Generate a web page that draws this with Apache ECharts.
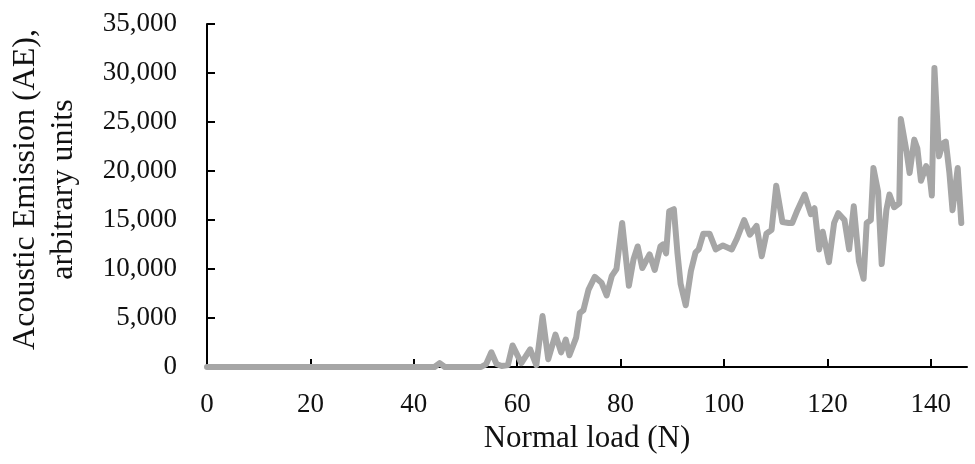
<!DOCTYPE html>
<html>
<head>
<meta charset="utf-8">
<script src="https://cdn.jsdelivr.net/npm/echarts@6/dist/echarts.min.js"></script>
<style>
html,body{margin:0;padding:0;background:#fff;}
#chart{width:975px;height:464px;}
</style>
</head>
<body>
<div id="chart"></div>
<script>
// Normal load (N)
var loadN = [0, 44, 45, 46, 53, 54, 55, 56, 57, 58.2, 59.1, 60.8, 62.5, 63.7, 64.9, 66.0, 67.4, 68.5, 69.4, 70.1,
  71.4, 72.1, 72.8, 73.8, 75.0, 76.3, 77.3, 78.3, 79.2, 80.3, 81.6, 82.5, 83.3, 84.2, 85.6, 86.6, 87.7, 88.2, 88.8,
  89.4, 90.3, 91.0, 91.6, 92.6, 93.6, 94.5, 95.1, 96.0, 97.2, 98.4, 99.8, 101.5, 102.5, 103.9, 105.0, 106.3, 107.3,
  108.2, 109.2, 110.1, 111.3, 112.5, 113.2, 114.2, 115.6, 116.8, 117.5, 118.4, 119.1, 120.3, 121.3, 122.1, 123.3,
  124.2, 125.1, 126.1, 127.0, 127.6, 128.4, 128.9, 129.8, 130.5, 131.4, 132.0, 132.9, 133.9, 134.2, 135.3, 135.9,
  136.8, 137.4, 138.1, 139.1, 139.8, 140.2, 140.7, 141.3, 141.6, 142.3, 142.9, 143.6, 144.2, 145.2, 145.9];
// Acoustic Emission (AE), arbitrary units
var aeValues = [0, 0, 400, 0, 0, 300, 1500, 300, 100, 200, 2200, 400, 1800, 200, 5200, 800, 3300, 1500, 2800, 1200,
  3000, 5500, 5800, 7900, 9200, 8600, 7300, 9300, 10000, 14700, 8300, 11000, 12300, 10100, 11500, 9900, 12300, 12500, 11600,
  15900, 16100, 11600, 8500, 6300, 9800, 11700, 12000, 13600, 13600, 12000, 12400, 12000, 13100, 15000, 13500, 14400, 11300,
  13600, 14000, 18500, 14800, 14700, 14700, 16000, 17600, 15600, 16200, 12000, 13800, 10700, 14700, 15700, 15000,
  12000, 16400, 10800, 9000, 14700, 15000, 20300, 17900, 10500, 16000, 17600, 16300, 16700, 25300, 22000, 19800,
  23200, 22300, 19000, 20500, 19400, 17500, 30500, 24500, 21500, 22800, 23000, 19800, 16000, 20300, 14700];
var xTicks = [0, 20, 40, 60, 80, 100, 120, 140];
var yTicks = [0, 5000, 10000, 15000, 20000, 25000, 30000, 35000];

var serif = "'Liberation Serif', 'Times New Roman', serif";
var seriesData = loadN.map(function (x, i) { return [x, aeValues[i]]; });

var chart = echarts.init(document.getElementById('chart'), null, {renderer: 'canvas'});
chart.setOption({
  animation: false,
  backgroundColor: '#ffffff',
  grid: {left: 207, right: 8, top: 24, bottom: 97, containLabel: false, outerBoundsMode: 'none'},
  xAxis: {
    type: 'value',
    min: 0,
    max: 147,
    interval: 20,
    name: 'Normal load (N)',
    nameLocation: 'middle',
    nameGap: 52,
    nameTextStyle: {fontFamily: serif, fontSize: 31, color: '#111'},
    axisLine: {show: true, lineStyle: {color: '#000', width: 2}},
    axisTick: {show: true, inside: true, length: 8, lineStyle: {color: '#000', width: 2}},
    axisLabel: {
      fontFamily: serif, fontSize: 27, color: '#111', margin: 24,
      showMaxLabel: false,
      formatter: function (v) { return xTicks.indexOf(v) >= 0 ? String(v) : ''; }
    },
    splitLine: {show: false}
  },
  yAxis: {
    type: 'value',
    min: 0,
    max: 35000,
    interval: 5000,
    name: 'Acoustic Emission (AE),\narbitrary units',
    nameLocation: 'middle',
    nameRotate: 90,
    nameGap: 124,
    nameTextStyle: {fontFamily: serif, fontSize: 32, color: '#111', lineHeight: 38, align: 'center', padding: [0, 0, 0, 12]},
    axisLine: {show: true, lineStyle: {color: '#000', width: 2}},
    axisTick: {show: true, inside: true, length: 8, lineStyle: {color: '#000', width: 2}},
    axisLabel: {
      fontFamily: serif, fontSize: 27, color: '#111', margin: 30,
      formatter: function (v) { return yTicks.indexOf(v) >= 0 ? v.toLocaleString('en-US') : ''; }
    },
    splitLine: {show: false}
  },
  series: [{
    type: 'line',
    data: seriesData,
    showSymbol: false,
    symbol: 'none',
    smooth: false,
    lineStyle: {color: '#a6a6a6', width: 6, cap: 'round', join: 'round'},
    z: 3
  }]
});
</script>
</body>
</html>
